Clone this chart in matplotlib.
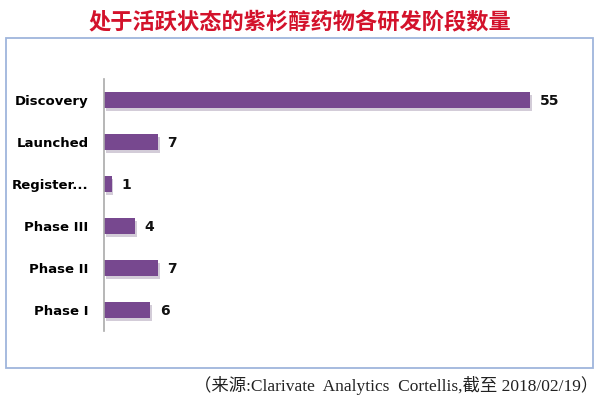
import numpy as np
import matplotlib.pyplot as plt
from matplotlib.patches import Rectangle

# 数据
etapas = ["Discovery", "Launched", "Register...", "Phase III", "Phase II", "Phase I"]
valores = [55, 7, 1, 4, 7, 6]

titulo = "处于活跃状态的紫杉醇药物各研发阶段数量"
fuente = "（来源:Clarivate  Analytics  Cortellis,截至 2018/02/19）"

fig = plt.figure(figsize=(6, 3.99), dpi=100)

# marco azul alrededor del gráfico
fig.patches.append(Rectangle((0.01, 0.078), 0.978, 0.827, transform=fig.transFigure,
                             fill=False, edgecolor="#9fb5dc", linewidth=1.3))

ax = fig.add_axes([0.1733, 0.1704, 0.775, 0.6316])
y = np.arange(len(etapas))

# sombra + barras
ax.barh(y + 0.07, valores, height=0.36, left=0.2, color="#d3ccd8", zorder=1)
ax.barh(y, valores, height=0.36, color="#77488f", zorder=2)

for yi, v in zip(y, valores):
    ax.text(v + 1.2, yi + 0.03, str(v), va="center", ha="left", fontsize=10,
            fontweight="bold", color="#111111")

ax.set_yticks(y)
ax.set_yticklabels(etapas, fontsize=9.5, fontweight="bold")
ax.tick_params(axis="y", length=0, pad=11)
ax.set_xticks([])
ax.set_xlim(0, 60)
ax.set_ylim(len(etapas) - 0.5, -0.5)
for s in ["top", "right", "bottom"]:
    ax.spines[s].set_visible(False)
ax.spines["left"].set_color("#aaaaaa")
ax.spines["left"].set_linewidth(1.2)

fig.text(0.5, 0.945, titulo, ha="center", va="center", fontsize=16, fontweight="bold",
         color="#d3122b", family=["Noto Sans CJK SC", "DejaVu Sans"])
fig.text(0.997, 0.035, fuente, ha="right", va="center", fontsize=12.5, color="#222222",
         family=["Liberation Serif", "Noto Sans CJK SC"])

plt.savefig("out.png", dpi=100)
